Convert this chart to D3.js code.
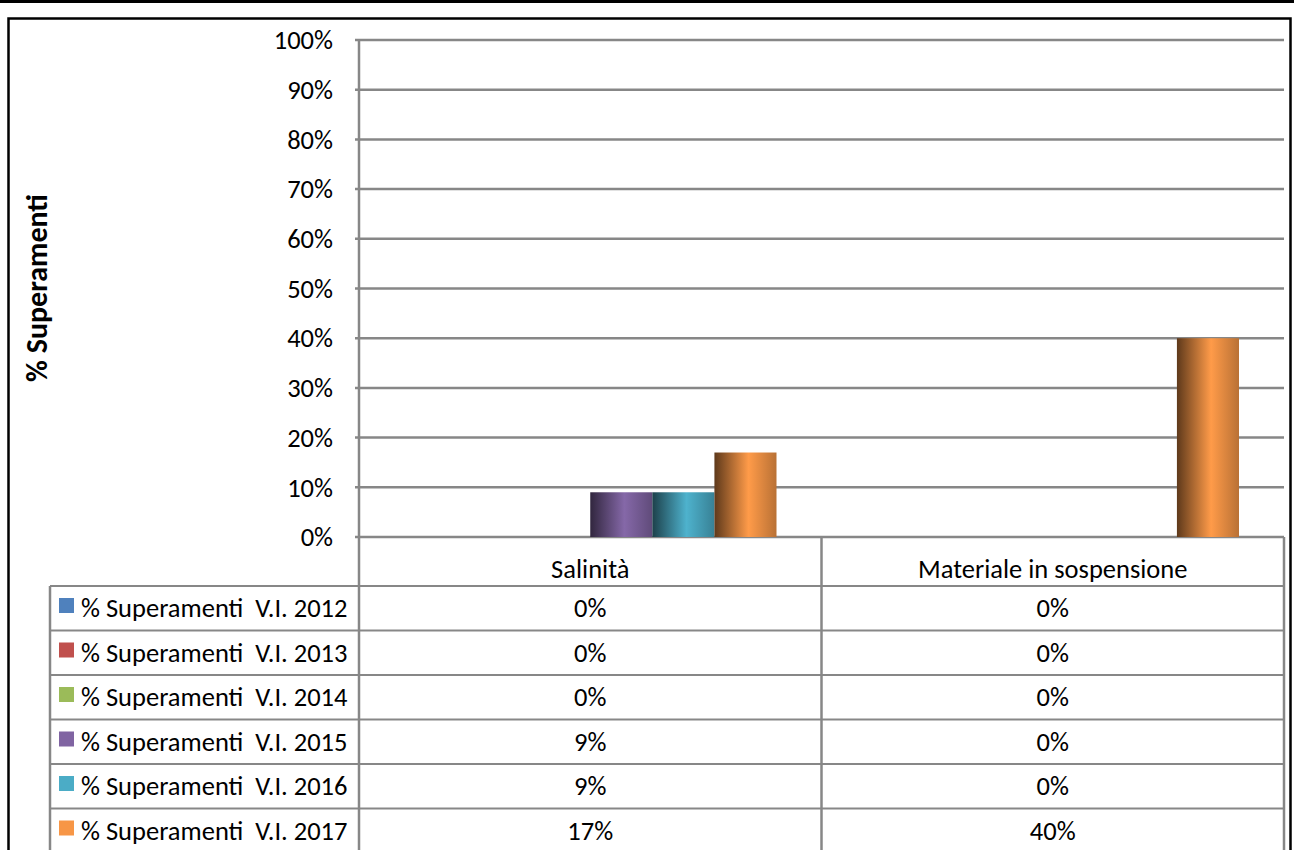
<!DOCTYPE html>
<html lang="it">
<head>
  <meta charset="UTF-8">
  <title>% Superamenti V.I.</title>
  <script src="https://d3js.org/d3.v7.min.js"></script>
  <style>
    body {
      margin: 0;
      background: #fff;
      font-family: Carlito, Lato, sans-serif;
    }
    svg text {
      white-space: pre;
      fill: #000;
    }
  </style>
</head>
<body>
  <svg width="1294" height="850"></svg>

  <script>
    // data
    const categories = ["Salinità", "Materiale in sospensione"];
    const seriesNames = [
      "% Superamenti  V.I. 2012",
      "% Superamenti  V.I. 2013",
      "% Superamenti  V.I. 2014",
      "% Superamenti  V.I. 2015",
      "% Superamenti  V.I. 2016",
      "% Superamenti  V.I. 2017"
    ];
    const v2012 = [0, 0];
    const v2013 = [0, 0];
    const v2014 = [0, 0];
    const v2015 = [0.09, 0];
    const v2016 = [0.09, 0];
    const v2017 = [0.17, 0.40];
    const seriesColors = ["#4F81BD", "#C0504D", "#9BBB59", "#8064A2", "#4BACC6", "#F79646"];
    const yTicks = [0, 0.1, 0.2, 0.3, 0.4, 0.5, 0.6, 0.7, 0.8, 0.9, 1];

    const seriesValues = [v2012, v2013, v2014, v2015, v2016, v2017];
    const series = seriesNames.map((name, i) => ({
      name, color: seriesColors[i], values: seriesValues[i], key: "s" + i
    }));

    const plot = { left: 359, right: 1284, top: 40, bottom: 537 };
    const legendLeft = 50;
    const headerBottom = 586;
    const rowH = 44.5;
    const fs = "26.5px";
    const fmt = d3.format(".0%");

    const svg = d3.select("svg");
    const gridColor = "#878787";

    // Scales
    const x0 = d3.scaleBand()
      .domain(categories)
      .range([plot.left, plot.right]);

    const x1 = d3.scaleBand()
      .domain(series.map(s => s.key))
      .range([45, x0.bandwidth() - 45]);

    const y = d3.scaleLinear()
      .domain([0, 1])
      .range([plot.bottom, plot.top]);

    // cylinder-like gradients
    const defs = svg.append("defs");
    series.forEach(s => {
      const g = defs.append("linearGradient")
        .attr("id", "grad-" + s.key)
        .attr("x1", "0%").attr("x2", "100%")
        .attr("y1", "0%").attr("y2", "0%");
      g.append("stop").attr("offset", "0%").attr("stop-color", d3.interpolateRgb(s.color, "#000")(0.62));
      g.append("stop").attr("offset", "55%").attr("stop-color", d3.color(s.color).brighter(0.1));
      g.append("stop").attr("offset", "100%").attr("stop-color", d3.interpolateRgb(s.color, "#000")(0.25));
    });

    // top rule and outer frame
    svg.append("rect")
      .attr("x", 0).attr("y", 0)
      .attr("width", 1294).attr("height", 3)
      .attr("fill", "#000");

    svg.append("rect")
      .attr("x", 8.5).attr("y", 18.5)
      .attr("width", 1282).attr("height", 900)
      .attr("fill", "none")
      .attr("stroke", "#000")
      .attr("stroke-width", 2.5);

    // Gridlines
    svg.append("g")
      .selectAll("line")
      .data(yTicks)
      .join("line")
      .attr("x1", plot.left - 4)
      .attr("x2", plot.right)
      .attr("y1", d => y(d))
      .attr("y2", d => y(d))
      .attr("stroke", gridColor)
      .attr("stroke-width", 2.5);

    // Y axis labels
    svg.append("g")
      .selectAll("text")
      .data(yTicks)
      .join("text")
      .attr("x", 333)
      .attr("y", d => y(d))
      .attr("dy", "0.35em")
      .attr("text-anchor", "end")
      .attr("font-size", fs)
      .text(d => fmt(d));

    // Y axis title
    svg.append("text")
      .attr("transform", "translate(47,288) rotate(-90)")
      .attr("text-anchor", "middle")
      .attr("font-size", "30px")
      .attr("font-weight", "bold")
      .text("% Superamenti");

    // Bars
    svg.append("g")
      .selectAll("g")
      .data(categories)
      .join("g")
      .attr("transform", d => `translate(${x0(d)},0)`)
      .selectAll("rect")
      .data((c, ci) => series.map(s => ({ key: s.key, value: s.values[ci] })))
      .join("rect")
      .attr("x", d => x1(d.key))
      .attr("width", x1.bandwidth())
      .attr("y", d => y(d.value))
      .attr("height", d => y(0) - y(d.value))
      .attr("fill", d => `url(#grad-${d.key})`);

    // Data table
    const table = svg.append("g");
    const rowTop = i => headerBottom + i * rowH;
    const tableBottom = 860;

    // horizontal lines
    table.selectAll("line.h")
      .data(d3.range(series.length))
      .join("line")
      .attr("class", "h")
      .attr("x1", legendLeft)
      .attr("x2", plot.right)
      .attr("y1", i => rowTop(i))
      .attr("y2", i => rowTop(i))
      .attr("stroke", gridColor)
      .attr("stroke-width", 2);

    // vertical lines
    const verticals = [
      { x: legendLeft, y1: headerBottom },
      { x: plot.left, y1: plot.top },
      { x: x0(categories[1]), y1: plot.bottom },
      { x: plot.right, y1: plot.bottom }
    ];
    table.selectAll("line.v")
      .data(verticals)
      .join("line")
      .attr("class", "v")
      .attr("x1", d => d.x).attr("x2", d => d.x)
      .attr("y1", d => d.y1).attr("y2", tableBottom)
      .attr("stroke", gridColor)
      .attr("stroke-width", 2.5);

    // header: category names
    table.selectAll("text.cat")
      .data(categories)
      .join("text")
      .attr("class", "cat")
      .attr("x", d => x0(d) + x0.bandwidth() / 2)
      .attr("y", 578)
      .attr("text-anchor", "middle")
      .attr("font-size", fs)
      .text(d => d);

    // legend cells
    const legendRows = table.selectAll("g.leg")
      .data(series)
      .join("g")
      .attr("class", "leg")
      .attr("transform", (d, i) => `translate(0,${rowTop(i)})`);

    legendRows.append("rect")
      .attr("x", 59)
      .attr("y", 12)
      .attr("width", 15)
      .attr("height", 15)
      .attr("fill", d => d.color);

    legendRows.append("text")
      .attr("x", 81)
      .attr("y", 31)
      .attr("font-size", fs)
      .text(d => d.name);

    // value cells
    legendRows.selectAll("text.val")
      .data(d => d.values.map((v, ci) => ({ v, c: categories[ci] })))
      .join("text")
      .attr("class", "val")
      .attr("x", d => x0(d.c) + x0.bandwidth() / 2)
      .attr("y", 31)
      .attr("text-anchor", "middle")
      .attr("font-size", fs)
      .text(d => fmt(d.v));
  </script>
</body>
</html>
